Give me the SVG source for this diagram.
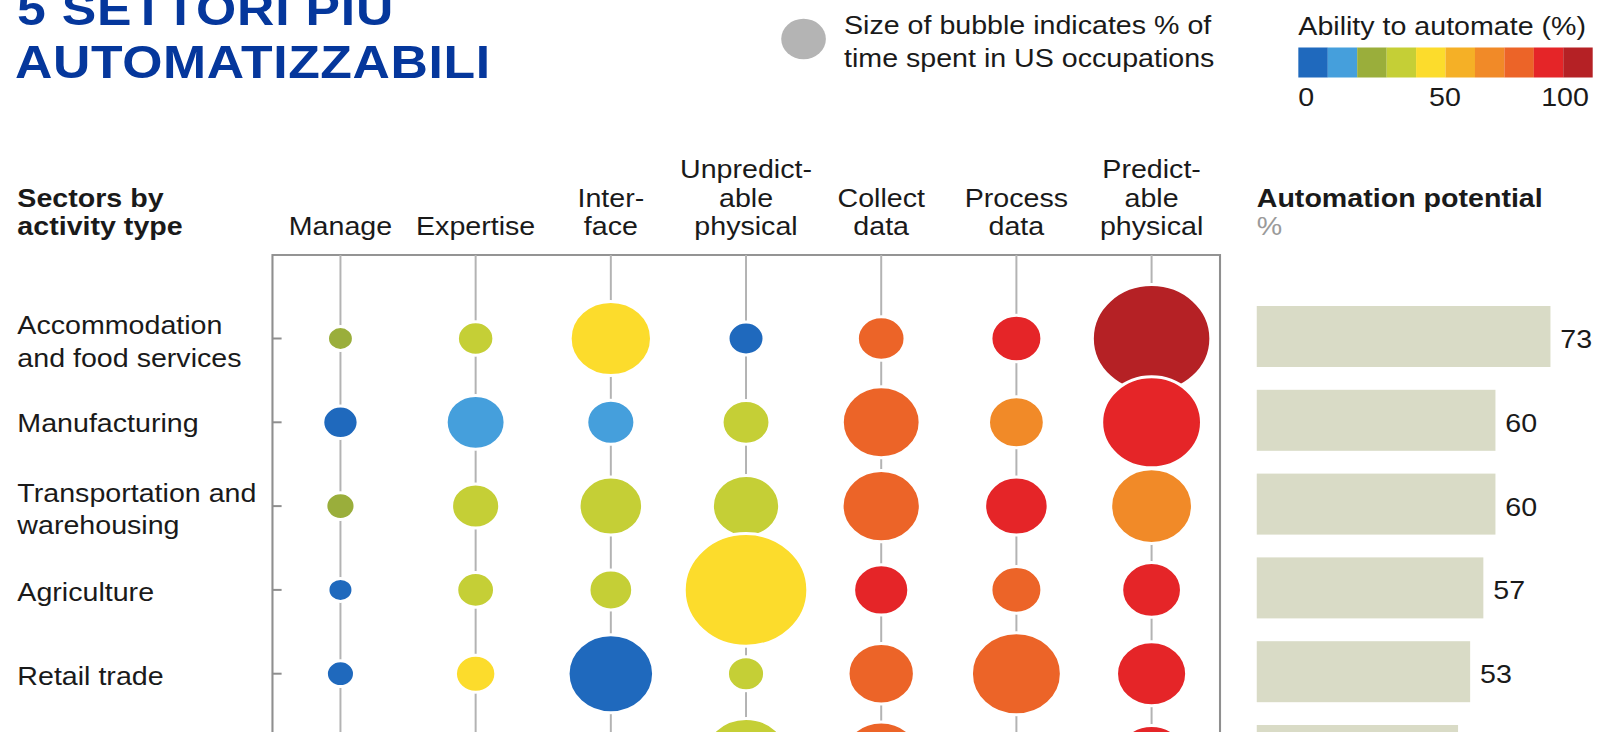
<svg xmlns="http://www.w3.org/2000/svg" width="1608" height="732" viewBox="0 0 1608 732">
<style>
.t{font-family:"Liberation Sans",Arial,Helvetica,sans-serif;font-size:26px;fill:#1a1a1a}
.bd{font-weight:bold}
.m{text-anchor:middle}
.title{font-family:"Liberation Sans",Arial,Helvetica,sans-serif;font-size:47px;font-weight:bold;fill:#05379c}
.b{stroke:#fff;stroke-width:3}
.c1{fill:#1f69bd}.c2{fill:#459fdc}.c3{fill:#9aae3b}.c4{fill:#c5cf36}.c5{fill:#fcdc2c}
.c6{fill:#f5b026}.c7{fill:#f18a28}.c8{fill:#ec6428}.c9{fill:#e52528}.c10{fill:#b52125}
.bar{fill:#d9dbc6}
.col{stroke:#b3b3b3;stroke-width:1.8;fill:none}
.frame{stroke:#8f8f8f;stroke-width:1.9;fill:none}
.tick{stroke:#8f8f8f;stroke-width:2}
</style>
<rect width="1608" height="732" fill="#fff"/>
<g transform="scale(1.1 1)">
  <g id="title">
    <text class="title" x="15.5" y="25" textLength="342" lengthAdjust="spacing">5 SETTORI PIU</text>
    <text class="title" x="13.6" y="78" textLength="432" lengthAdjust="spacing">AUTOMATIZZABILI</text>
  </g>
  <g id="legend-size">
    <circle cx="730.5" cy="39" r="20.3" fill="#b4b4b4"/>
    <text class="t" x="767.3" y="34.5">Size of bubble indicates % of</text>
    <text class="t" x="767.3" y="67">time spent in US occupations</text>
  </g>
  <g id="legend-color">
    <text class="t" x="1180.3" y="35">Ability to automate (%)</text>
    <rect class="c1" x="1180.3" y="47.5" width="26.8" height="30"/>
    <rect class="c2" x="1207.06" y="47.5" width="26.8" height="30"/>
    <rect class="c3" x="1233.82" y="47.5" width="26.8" height="30"/>
    <rect class="c4" x="1260.58" y="47.5" width="26.8" height="30"/>
    <rect class="c5" x="1287.34" y="47.5" width="26.8" height="30"/>
    <rect class="c6" x="1314.1" y="47.5" width="26.8" height="30"/>
    <rect class="c7" x="1340.86" y="47.5" width="26.8" height="30"/>
    <rect class="c8" x="1367.62" y="47.5" width="26.8" height="30"/>
    <rect class="c9" x="1394.38" y="47.5" width="26.8" height="30"/>
    <rect class="c10" x="1421.14" y="47.5" width="26.76" height="30"/>
    <text class="t" x="1180.3" y="106.5">0</text>
    <text class="t m" x="1313.6" y="106.5">50</text>
    <text class="t" x="1444.5" y="106.5" text-anchor="end">100</text>
  </g>
  <g id="header">
    <text class="t bd" x="15.8" y="207">Sectors by</text>
    <text class="t bd" x="15.8" y="235">activity type</text>
    <text class="t m" x="309.5" y="235">Manage</text>
    <text class="t m" x="432.4" y="235">Expertise</text>
    <text class="t m" x="555.3" y="207">Inter-</text>
    <text class="t m" x="555.3" y="235">face</text>
    <text class="t m" x="678.2" y="178.5">Unpredict-</text>
    <text class="t m" x="678.2" y="207">able</text>
    <text class="t m" x="678.2" y="235">physical</text>
    <text class="t m" x="801.1" y="207">Collect</text>
    <text class="t m" x="801.1" y="235">data</text>
    <text class="t m" x="924" y="207">Process</text>
    <text class="t m" x="924" y="235">data</text>
    <text class="t m" x="1046.9" y="178.5">Predict-</text>
    <text class="t m" x="1046.9" y="207">able</text>
    <text class="t m" x="1046.9" y="235">physical</text>
    <text class="t bd" x="1142.5" y="207">Automation potential</text>
    <text class="t" x="1142.5" y="235" style="fill:#9a9a9a">%</text>
  </g>
  <g id="connectors">
    <rect class="frame" x="247.7" y="255" width="861.4" height="520"/>
    <line class="col" x1="309.5" y1="255" x2="309.5" y2="740"/>
    <line class="col" x1="432.4" y1="255" x2="432.4" y2="740"/>
    <line class="col" x1="555.3" y1="255" x2="555.3" y2="740"/>
    <line class="col" x1="678.2" y1="255" x2="678.2" y2="740"/>
    <line class="col" x1="801.1" y1="255" x2="801.1" y2="740"/>
    <line class="col" x1="924" y1="255" x2="924" y2="740"/>
    <line class="col" x1="1046.9" y1="255" x2="1046.9" y2="740"/>
  </g>
  <g id="row-accommodation">
    <text class="t" x="15.8" y="334.5">Accommodation</text>
    <text class="t" x="15.8" y="367">and food services</text>
    <line class="tick" x1="247.7" y1="338.5" x2="256" y2="338.5"/>
    <circle class="b c3" cx="309.5" cy="338.5" r="11.9"/>
    <circle class="b c4" cx="432.4" cy="338.5" r="16.7"/>
    <circle class="b c5" cx="555.3" cy="338.5" r="37.1"/>
    <circle class="b c1" cx="678.2" cy="338.5" r="16.5"/>
    <circle class="b c8" cx="801.1" cy="338.5" r="21.8"/>
    <circle class="b c9" cx="924" cy="338.5" r="23.3"/>
    <circle class="b c10" cx="1046.9" cy="338.5" r="54"/>
    <rect class="bar" x="1142.5" y="306" width="267" height="61"/>
    <text class="t" x="1418.5" y="348">73</text>
  </g>
  <g id="row-manufacturing">
    <text class="t" x="15.8" y="432">Manufacturing</text>
    <line class="tick" x1="247.7" y1="422.3" x2="256" y2="422.3"/>
    <circle class="b c1" cx="309.5" cy="422.3" r="16.2"/>
    <circle class="b c2" cx="432.4" cy="422.3" r="26.9"/>
    <circle class="b c2" cx="555.3" cy="422.3" r="22"/>
    <circle class="b c4" cx="678.2" cy="422.3" r="21.9"/>
    <circle class="b c8" cx="801.1" cy="422.3" r="35.5"/>
    <circle class="b c7" cx="924" cy="422.3" r="25.5"/>
    <circle class="b c9" cx="1046.9" cy="422.3" r="45.5"/>
    <rect class="bar" x="1142.5" y="389.8" width="217" height="61"/>
    <text class="t" x="1368.5" y="431.8">60</text>
  </g>
  <g id="row-transportation">
    <text class="t" x="15.8" y="502">Transportation and</text>
    <text class="t" x="15.8" y="534">warehousing</text>
    <line class="tick" x1="247.7" y1="506.1" x2="256" y2="506.1"/>
    <circle class="b c3" cx="309.5" cy="506.1" r="13.4"/>
    <circle class="b c4" cx="432.4" cy="506.1" r="22"/>
    <circle class="b c4" cx="555.3" cy="506.1" r="29"/>
    <circle class="b c4" cx="678.2" cy="506.1" r="30.7"/>
    <circle class="b c8" cx="801.1" cy="506.1" r="35.7"/>
    <circle class="b c9" cx="924" cy="506.1" r="29"/>
    <circle class="b c7" cx="1046.9" cy="506.1" r="37.3"/>
    <rect class="bar" x="1142.5" y="473.6" width="217" height="61"/>
    <text class="t" x="1368.5" y="515.6">60</text>
  </g>
  <g id="row-agriculture">
    <text class="t" x="15.8" y="601">Agriculture</text>
    <line class="tick" x1="247.7" y1="589.9" x2="256" y2="589.9"/>
    <circle class="b c1" cx="309.5" cy="589.9" r="11.5"/>
    <circle class="b c4" cx="432.4" cy="589.9" r="17.3"/>
    <circle class="b c4" cx="555.3" cy="589.9" r="20"/>
    <circle class="b c5" cx="678.2" cy="589.9" r="56.3"/>
    <circle class="b c9" cx="801.1" cy="589.9" r="25.2"/>
    <circle class="b c8" cx="924" cy="589.9" r="23.3"/>
    <circle class="b c9" cx="1046.9" cy="589.9" r="27.3"/>
    <rect class="bar" x="1142.5" y="557.4" width="206" height="61"/>
    <text class="t" x="1357.5" y="599.4">57</text>
  </g>
  <g id="row-retail">
    <text class="t" x="15.8" y="685">Retail trade</text>
    <line class="tick" x1="247.7" y1="673.7" x2="256" y2="673.7"/>
    <circle class="b c1" cx="309.5" cy="673.7" r="12.9"/>
    <circle class="b c5" cx="432.4" cy="673.7" r="18.5"/>
    <circle class="b c1" cx="555.3" cy="673.7" r="39"/>
    <circle class="b c4" cx="678.2" cy="673.7" r="17"/>
    <circle class="b c8" cx="801.1" cy="673.7" r="30.3"/>
    <circle class="b c8" cx="924" cy="673.7" r="41"/>
    <circle class="b c9" cx="1046.9" cy="673.7" r="32"/>
    <rect class="bar" x="1142.5" y="641.2" width="194" height="61"/>
    <text class="t" x="1345.5" y="683.2">53</text>
  </g>
  <g id="row-next">
    <circle class="b c4" cx="678.2" cy="757.5" r="39"/>
    <circle class="b c8" cx="801.1" cy="757.5" r="35.5"/>
    <circle class="b c9" cx="1046.9" cy="757.5" r="32"/>
    <rect class="bar" x="1142.5" y="725" width="183" height="61"/>
  </g>
</g>
</svg>
